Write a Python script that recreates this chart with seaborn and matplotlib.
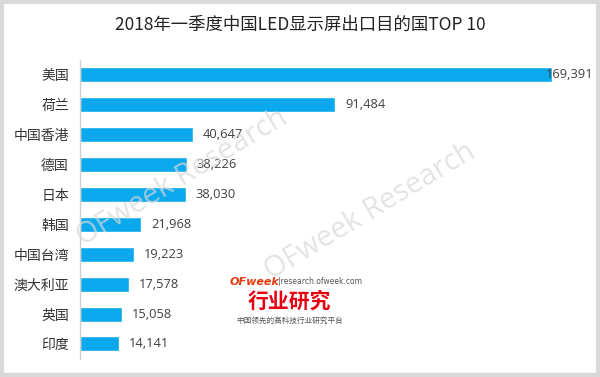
import matplotlib
matplotlib.use("Agg")
import matplotlib.pyplot as plt
import seaborn as sns
import pandas as pd

categories = ["美国", "荷兰", "中国香港", "德国", "日本", "韩国", "中国台湾", "澳大利亚", "英国", "印度"]
values = [169391, 91484, 40647, 38226, 38030, 21968, 19223, 17578, 15058, 14141]
title = "2018年一季度中国LED显示屏出口目的国TOP 10"

sns.set_theme(style="white")
plt.rcParams['font.family'] = ['Noto Sans CJK SC', 'DejaVu Sans']

df = pd.DataFrame({"country": categories, "value": values})

fig = plt.figure(figsize=(6, 3.77), dpi=100)
fig.patch.set_facecolor("white")
ax = fig.add_axes([0.1333, 0.048, 0.86, 0.793])

XMAX = 185000
sns.barplot(data=df, x="value", y="country", color="#0AA8EC", saturation=1,
            width=0.5, ax=ax, orient="h")

ax.set_xlim(0, XMAX)
ax.set_ylim(9.5, -0.5)
ax.set_xlabel("")
ax.set_ylabel("")
ax.set_xticks([])
for s in ["top", "right", "bottom"]:
    ax.spines[s].set_visible(False)
ax.spines["left"].set_color("#D0D0D0")
ax.spines["left"].set_linewidth(1)
ax.tick_params(axis="y", length=0, pad=8, labelsize=10, labelcolor="#333333")

for i, v in enumerate(values):
    offset = 3500 if v + 3500 + 17000 <= XMAX else -2300
    ax.text(v + offset, i, f"{v:,}", va="center", ha="left", fontsize=9.3,
            color="#404040", family="Open Sans", clip_on=False, zorder=5)

fig.text(0.5, 0.935, title, ha="center", va="center", fontsize=12.5, color="#222222",
         fontweight="light")

# logo
fig.text(0.383, 0.252, "OFweek", fontsize=8, color="#E8380D", fontweight="bold",
         style="italic", ha="left", va="center", family="DejaVu Sans")
fig.text(0.463, 0.252, "|research.ofweek.com", fontsize=5.5, color="#555555",
         ha="left", va="center", family="DejaVu Sans")
fig.text(0.483, 0.2, "行业研究", fontsize=15, color="#E60012", fontweight="bold",
         ha="center", va="center")
fig.text(0.483, 0.149, "中国领先的高科技行业研究平台", fontsize=5.5, color="#555555",
         ha="center", va="center")

# watermarks
for cx, cy in [(0.303, 0.528), (0.617, 0.438)]:
    fig.text(cx, cy, "OFweek Research", rotation=31, fontsize=21, color="#D8D8D8",
             alpha=0.7, ha="center", va="center", family="Open Sans",
             rotation_mode="anchor", zorder=10)

# outer border
border = plt.Rectangle((0.003, 0.005), 0.994, 0.99, transform=fig.transFigure,
                       fill=False, edgecolor="#D9D9D9", linewidth=3)
fig.add_artist(border)

fig.savefig("out.png", dpi=100)
